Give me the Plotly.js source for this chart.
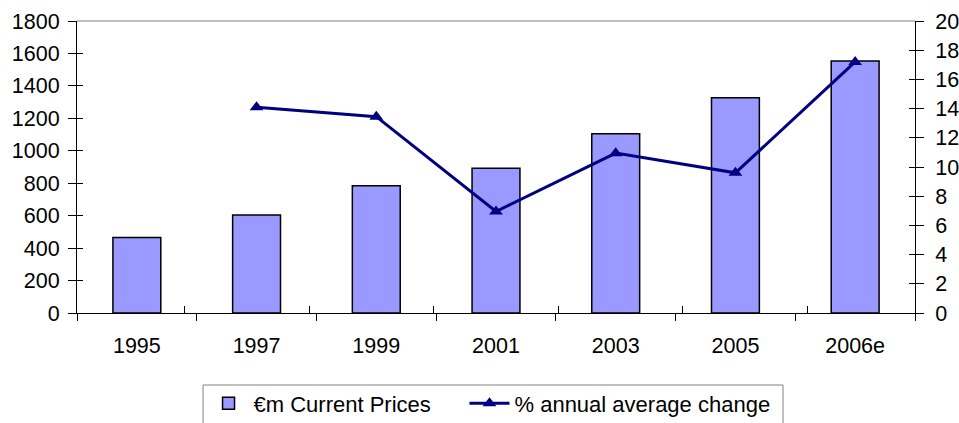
<!DOCTYPE html>
<html>
<head>
<meta charset="utf-8">
<script src="https://cdn.plot.ly/plotly-3.0.1.min.js"></script>
<style>html,body{margin:0;padding:0;background:#fff;}#chart{width:959px;height:423px;}</style>
</head>
<body>
<div id="chart"></div>
<script>
const years = ["1995", "1997", "1999", "2001", "2003", "2005", "2006e"];
const currentPrices = [466, 604, 785, 892, 1105, 1327, 1553];
const annualChange = [null, 14.1, 13.45, 6.95, 10.95, 9.6, 17.2];
const leftTicks = [0, 200, 400, 600, 800, 1000, 1200, 1400, 1600, 1800];
const rightTicks = [0, 2, 4, 6, 8, 10, 12, 14, 16, 18, 20];

const font = {family: "Liberation Sans, Arial, sans-serif", size: 21.5, color: "#000"};
const legendFont = {family: "Liberation Sans, Arial, sans-serif", size: 22, color: "#000"};

const traces = [
  {
    type: "bar", name: "€m Current Prices", x: years, y: currentPrices,
    marker: {color: "#9999FF", line: {color: "#000", width: 1.5}},
    xaxis: "x", yaxis: "y", legend: "legend"
  },
  {
    type: "scatter", mode: "lines+markers", name: "% annual average change",
    x: years, y: annualChange, yaxis: "y2", xaxis: "x", legend: "legend2",
    line: {color: "#000080", width: 3},
    marker: {symbol: "triangle-up", size: 12, color: "#000080"},
    connectgaps: false
  },
  {type: "scatter", mode: "markers", x: years, y: years.map(() => null), xaxis: "x2", yaxis: "y3", showlegend: false, hoverinfo: "skip"},
  {type: "scatter", mode: "markers", x: years, y: years.map(() => null), xaxis: "x2", yaxis: "y4", showlegend: false, hoverinfo: "skip"}
];

const layout = {
  width: 959, height: 423,
  margin: {l: 77, r: 44, t: 21, b: 110, autoexpand: false},
  paper_bgcolor: "#fff", plot_bgcolor: "#fff",
  font: font,
  bargap: 0.6,
  showlegend: true,
  legend: {
    orientation: "h", x: 0.151, xanchor: "left", y: -0.238, yanchor: "top",
    borderwidth: 0, bgcolor: "rgba(0,0,0,0)", font: legendFont, itemwidth: 40
  },
  legend2: {
    orientation: "h", x: 0.4624, xanchor: "left", y: -0.238, yanchor: "top",
    borderwidth: 0, bgcolor: "rgba(0,0,0,0)", font: legendFont, itemwidth: 40
  },
  xaxis: {
    type: "category", categoryarray: years, tickson: "boundaries",
    ticks: "outside", ticklen: 7, tickcolor: "#000", tickwidth: 1,
    showline: true, linecolor: "#000", linewidth: 1,
    showgrid: false, zeroline: false, tickfont: font, ticklabelstandoff: 13,
    fixedrange: true
  },
  xaxis2: {
    type: "category", categoryarray: years, overlaying: "x", tickson: "boundaries",
    ticks: "inside", ticklen: 7, tickcolor: "#000", tickwidth: 1,
    showticklabels: false, showline: false, showgrid: false, zeroline: false, side: "bottom"
  },
  yaxis: {
    range: [0, 1800], tickvals: leftTicks, ticktext: leftTicks.map(String),
    ticks: "outside", ticklen: 8, tickcolor: "#000", tickwidth: 1,
    showline: true, linecolor: "#000", linewidth: 1,
    showgrid: false, zeroline: false, tickfont: font, ticklabelstandoff: 4
  },
  yaxis2: {
    range: [0, 20], tickvals: rightTicks, ticktext: rightTicks.map(String),
    overlaying: "y", side: "right",
    ticks: "outside", ticklen: 8, tickcolor: "#000", tickwidth: 1,
    showline: true, linecolor: "#000", linewidth: 1,
    showgrid: false, zeroline: false, tickfont: font, ticklabelstandoff: 7
  },
  yaxis3: {
    range: [0, 1800], tickvals: leftTicks, overlaying: "y", side: "left",
    ticks: "inside", ticklen: 6, tickcolor: "#000", tickwidth: 1,
    showticklabels: false, showline: false, showgrid: false, zeroline: false
  },
  yaxis4: {
    range: [0, 20], tickvals: rightTicks, overlaying: "y", side: "right",
    ticks: "inside", ticklen: 6, tickcolor: "#000", tickwidth: 1,
    showticklabels: false, showline: false, showgrid: false, zeroline: false
  },
  shapes: [
    {type: "line", xref: "paper", yref: "paper", x0: 0, x1: 1, y0: 1, y1: 1, line: {color: "#808080", width: 1}},
    {type: "rect", xref: "paper", yref: "paper", x0: 0.1504, x1: 0.8425, y0: -0.2466, y1: -0.45,
     line: {color: "#808080", width: 1}, fillcolor: "rgba(0,0,0,0)", layer: "below"}
  ]
};

Plotly.newPlot("chart", traces, layout, {displayModeBar: false, staticPlot: true});
</script>
</body>
</html>
